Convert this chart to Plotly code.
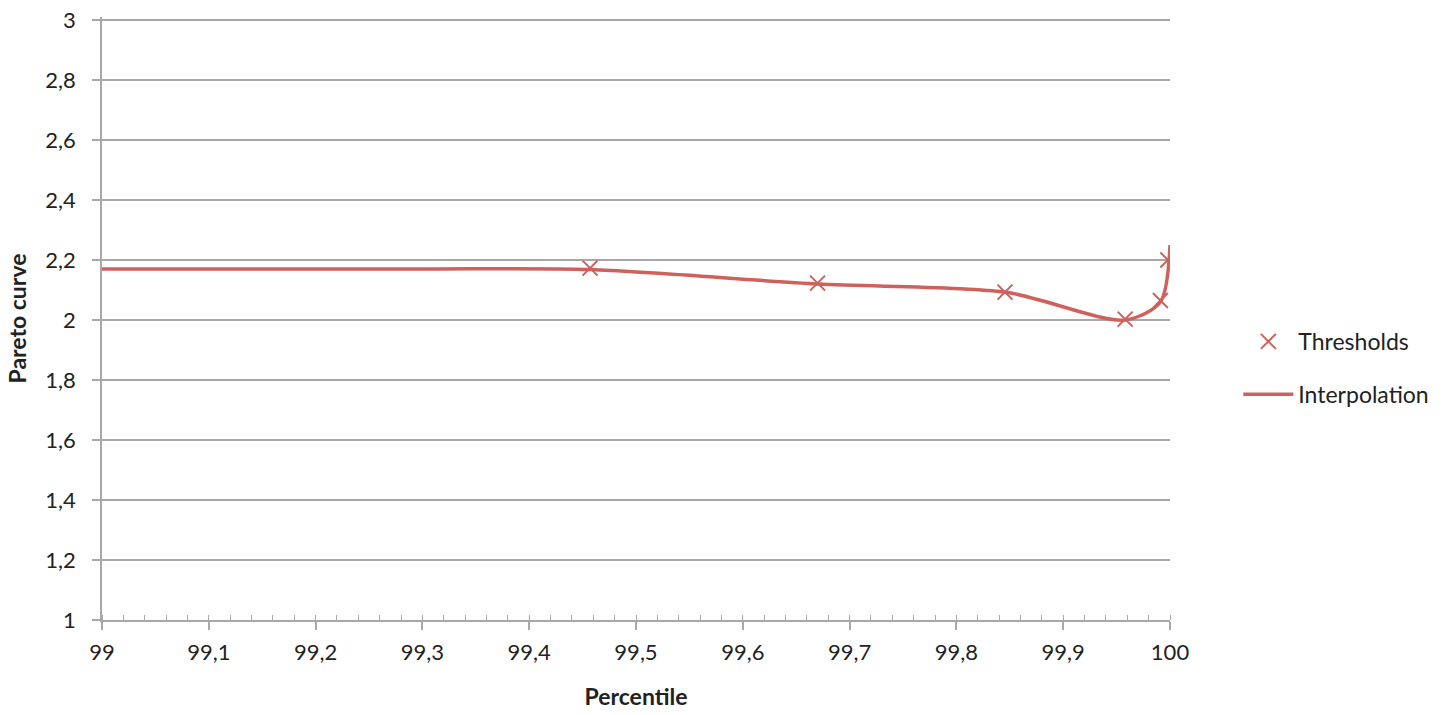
import plotly.graph_objects as go

# Threshold points (percentile, Pareto curve)
thr_x = [99.457, 99.670, 99.8455, 99.958, 99.991, 99.998]
thr_y = [2.173, 2.123, 2.093, 2.003, 2.065, 2.2]

# Interpolation curve control points
int_x = [99.0, 99.3, 99.457, 99.670, 99.8455, 99.958, 99.991, 100.0]
int_y = [2.17, 2.17, 2.168, 2.12, 2.093, 2.0, 2.06, 2.25]

x_ticks = [99.0, 99.1, 99.2, 99.3, 99.4, 99.5, 99.6, 99.7, 99.8, 99.9, 100.0]
x_labels = ["99", "99,1", "99,2", "99,3", "99,4", "99,5", "99,6", "99,7", "99,8", "99,9", "100"]
y_ticks = [1, 1.2, 1.4, 1.6, 1.8, 2, 2.2, 2.4, 2.6, 2.8, 3]
y_labels = ["1", "1,2", "1,4", "1,6", "1,8", "2", "2,2", "2,4", "2,6", "2,8", "3"]

RED = "#D0605C"
GRID = "#A8A8A8"
FONT = "Lato, 'Open Sans', sans-serif"

fig = go.Figure()
fig.add_trace(go.Scatter(
    x=thr_x, y=thr_y, mode="markers", name="Thresholds",
    marker=dict(symbol="x-thin", size=15, line=dict(color=RED, width=2)),
    legendgroup="a",
))
fig.add_trace(go.Scatter(
    x=int_x, y=int_y, mode="lines", name="Interpolation",
    line=dict(color=RED, width=3.5, shape="spline", smoothing=0.8),
    legendgroup="b",
))

fig.update_layout(
    width=1449, height=715,
    margin=dict(l=102, r=279, t=17, b=95),
    paper_bgcolor="white", plot_bgcolor="white",
    font=dict(family=FONT, size=22, color="#222222"),
    showlegend=True,
    legend=dict(x=1.064, xanchor="left", y=0.418, yanchor="middle",
                font=dict(size=23, color="#222222"),
                tracegroupgap=20, itemwidth=50,
                traceorder="grouped", bgcolor="rgba(0,0,0,0)"),
    xaxis=dict(
        range=[99, 100], tickmode="array", tickvals=x_ticks, ticktext=x_labels,
        showgrid=False, showline=True, linecolor=GRID, linewidth=1.5,
        ticks="outside", ticklen=8, tickcolor=GRID, tickwidth=1.5,
        minor=dict(dtick=0.02, tick0=99, ticks="inside", ticklen=5, tickcolor=GRID, tickwidth=1.2),
        zeroline=False, automargin=False, ticklabelstandoff=4,
        title=dict(text="<b>Percentile</b>", font=dict(size=23, family=FONT), standoff=25),
        tickfont=dict(size=22),
    ),
    xaxis2=dict(
        range=[99, 100], overlaying="x", side="bottom", tickmode="array", tickvals=x_ticks,
        showticklabels=False, showgrid=False, showline=False, zeroline=False,
        ticks="inside", ticklen=8, tickcolor=GRID, tickwidth=1.5, automargin=False,
    ),
    yaxis=dict(
        range=[1, 3.01], tickmode="array", tickvals=y_ticks, ticktext=y_labels,
        showgrid=True, gridcolor=GRID, gridwidth=1.5,
        showline=True, linecolor=GRID, linewidth=1.5,
        ticks="outside", ticklen=8, tickcolor=GRID, tickwidth=1.5,
        zeroline=False, ticklabelstandoff=12, automargin=False,
        title=dict(text="<b>Pareto curve</b>", font=dict(size=23, family=FONT), standoff=12),
        tickfont=dict(size=22),
    ),
)

fig.write_html("out.html", config={"displayModeBar": False},
               post_script="document.body.style.margin='0';")
